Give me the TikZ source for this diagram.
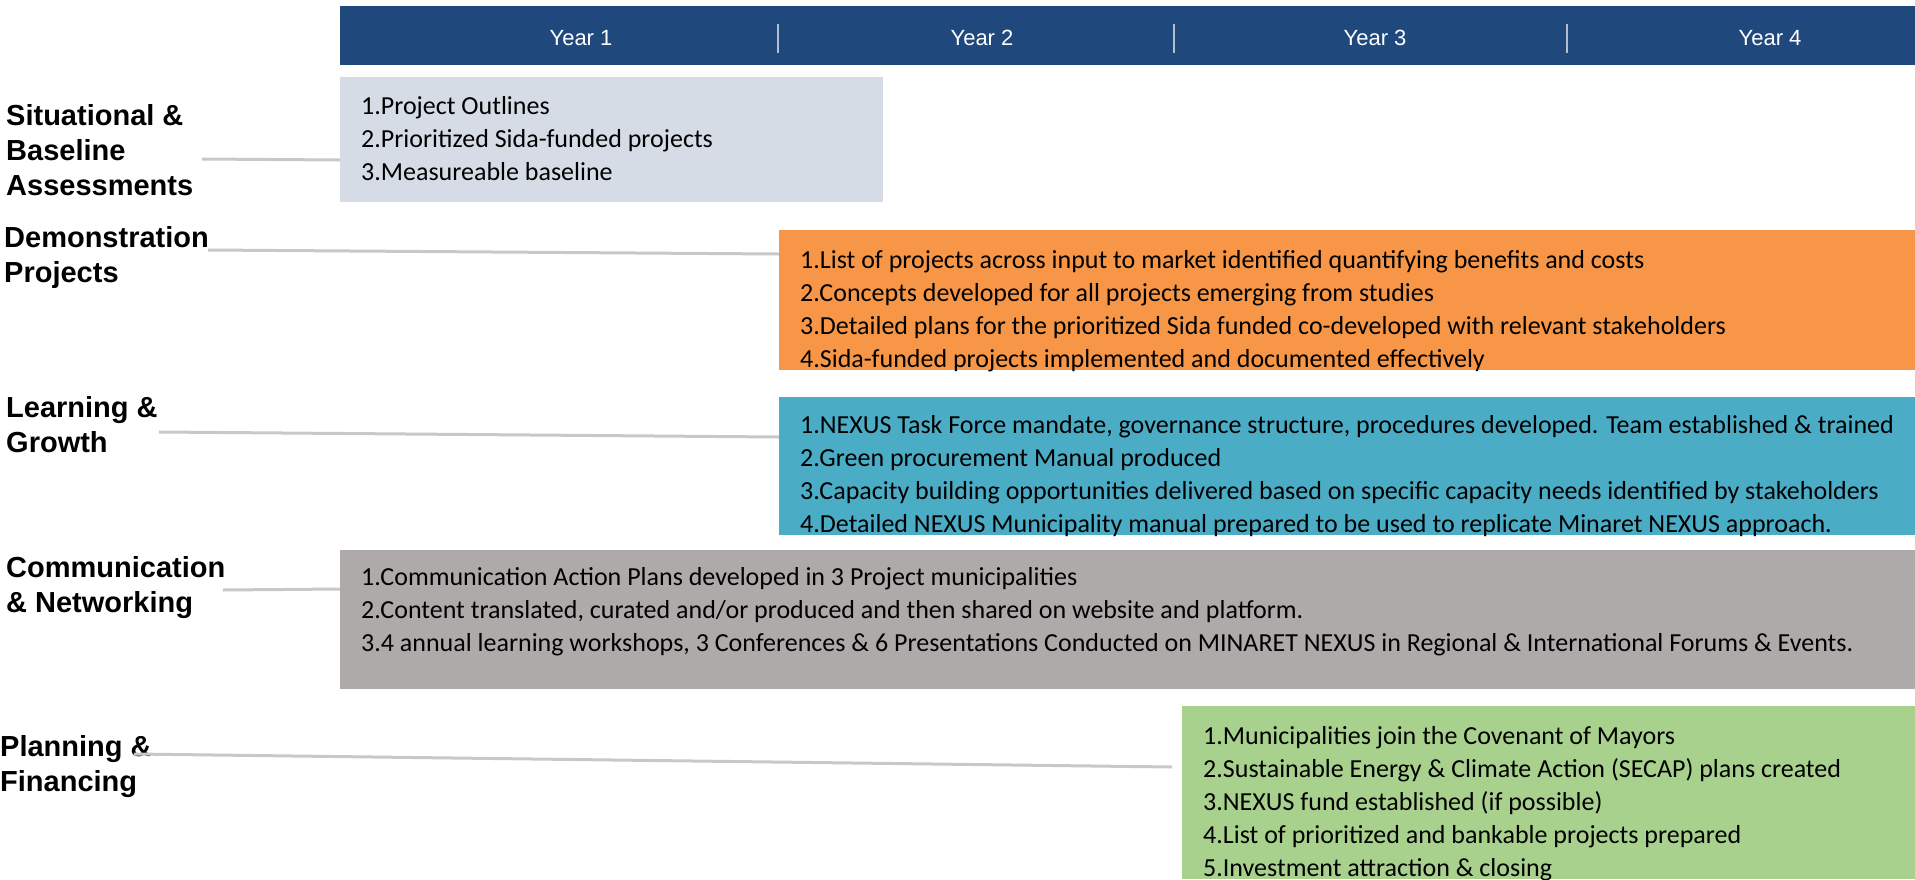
\documentclass[tikz,border=0pt]{standalone}
\usepackage{fontspec}
\setmainfont{Carlito}
\newfontfamily\arialfont{Liberation Sans}
\definecolor{headblue}{RGB}{31,73,125}
\definecolor{sitgrey}{RGB}{214,220,229}
\definecolor{demoorange}{RGB}{247,150,70}
\definecolor{learnteal}{RGB}{75,172,198}
\definecolor{commgrey}{RGB}{174,170,170}
\definecolor{plangreen}{RGB}{169,209,142}
\definecolor{linkgrey}{RGB}{200,200,200}
\begin{document}
\begin{tikzpicture}[x=1pt,y=-1pt,
      itembox/.style={anchor=north west,inner sep=0pt,outer sep=0pt},
      itemtext/.style={anchor=north west,inner sep=0pt,align=left,font=\fontsize{26}{33}\selectfont},
      rowlabel/.style={anchor=north west,inner sep=0pt,align=left,font=\arialfont\bfseries\fontsize{29}{35}\selectfont},
      yearlabel/.style={inner sep=0pt,text=white,font=\arialfont\fontsize{22}{26}\selectfont},
      link/.style={draw=linkgrey,line width=3pt}]
    \useasboundingbox (0,0) rectangle (1915,879);
    % year header
    \node[itembox,fill=headblue,minimum width=1575pt,minimum height=59pt] (header) at (340,6) {};
    \foreach \x in {778,1174,1567}
      \draw[white!65!headblue,line width=1.2pt] (\x,24) -- (\x,53);
    \foreach \x/\n in {581/1,982/2,1375/3,1770/4}
      \node[yearlabel] (year\n) at (\x,38) {Year \n};
    % boxes
    \node[itembox,fill=sitgrey,minimum width=543pt,minimum height=125pt] (sitBox) at (340,77) {};
    \node[itembox,fill=demoorange,minimum width=1136pt,minimum height=140pt] (demoBox) at (779,230) {};
    \node[itembox,fill=learnteal,minimum width=1136pt,minimum height=138pt] (learnBox) at (779,397) {};
    \node[itembox,fill=commgrey,minimum width=1575pt,minimum height=139pt] (commBox) at (340,550) {};
    \node[itembox,fill=plangreen,minimum width=733pt,minimum height=173pt] (planBox) at (1182,706) {};
    % box texts
    \node[itemtext] (sitText) at ([xshift=21pt,yshift=-19pt]sitBox.north west)
      {1.Project Outlines\\2.Prioritized Sida-funded projects\\3.Measureable baseline};
    \node[itemtext] (demoText) at ([xshift=21pt,yshift=-20pt]demoBox.north west)
      {1.List of projects across input to market identified quantifying benefits and costs\\
       2.Concepts developed for all projects emerging from studies\\
       3.Detailed plans for the prioritized Sida funded co-developed with relevant stakeholders\\
       4.Sida-funded projects implemented and documented effectively};
    \node[itemtext] (learnText) at ([xshift=21pt,yshift=-18pt]learnBox.north west)
      {1.NEXUS Task Force mandate, governance structure, procedures developed. Team established \& trained\\
       2.Green procurement Manual produced\\
       3.Capacity building opportunities delivered based on specific capacity needs identified by stakeholders\\
       4.Detailed NEXUS Municipality manual prepared to be used to replicate Minaret NEXUS approach.};
    \node[itemtext] (commText) at ([xshift=21pt,yshift=-17pt]commBox.north west)
      {1.Communication Action Plans developed in 3 Project municipalities\\
       2.Content translated, curated and/or produced and then shared on website and platform.\\
       3.4 annual learning workshops, 3 Conferences \& 6 Presentations Conducted on MINARET NEXUS in Regional \& International Forums \& Events.};
    \node[itemtext] (planText) at ([xshift=21pt,yshift=-20pt]planBox.north west)
      {1.Municipalities join the Covenant of Mayors\\
       2.Sustainable Energy \& Climate Action (SECAP) plans created\\
       3.NEXUS fund established (if possible)\\
       4.List of prioritized and bankable projects prepared\\
       5.Investment attraction \& closing};
    % row labels
    \node[rowlabel] (sitLabel) at (6,104) {Situational \&\\Baseline\\Assessments};
    \node[rowlabel] (demoLabel) at (4,226) {Demonstration\\Projects};
    \node[rowlabel] (learnLabel) at (6,396) {Learning \&\\Growth};
    \node[rowlabel] (commLabel) at (6,556) {Communication\\\& Networking};
    \node[rowlabel] (planLabel) at (0,735) {Planning \&\\Financing};
    % connectors
    \coordinate (sitStart) at (202,159);
    \coordinate (demoStart) at (208,250);
    \coordinate (learnStart) at (159,432);
    \coordinate (commStart) at (223,590);
    \coordinate (planStart) at (134,754);
    \coordinate (planEnd) at (1172,767);
    \draw[link] (sitStart) -- (sitBox.west |- 0,160);
    \draw[link] (demoStart) -- (demoBox.west |- 0,254);
    \draw[link] (learnStart) -- (learnBox.west |- 0,437);
    \draw[link] (commStart) -- (commBox.west |- 0,589);
    \draw[link] (planStart) -- (planEnd);
\end{tikzpicture}
\end{document}
